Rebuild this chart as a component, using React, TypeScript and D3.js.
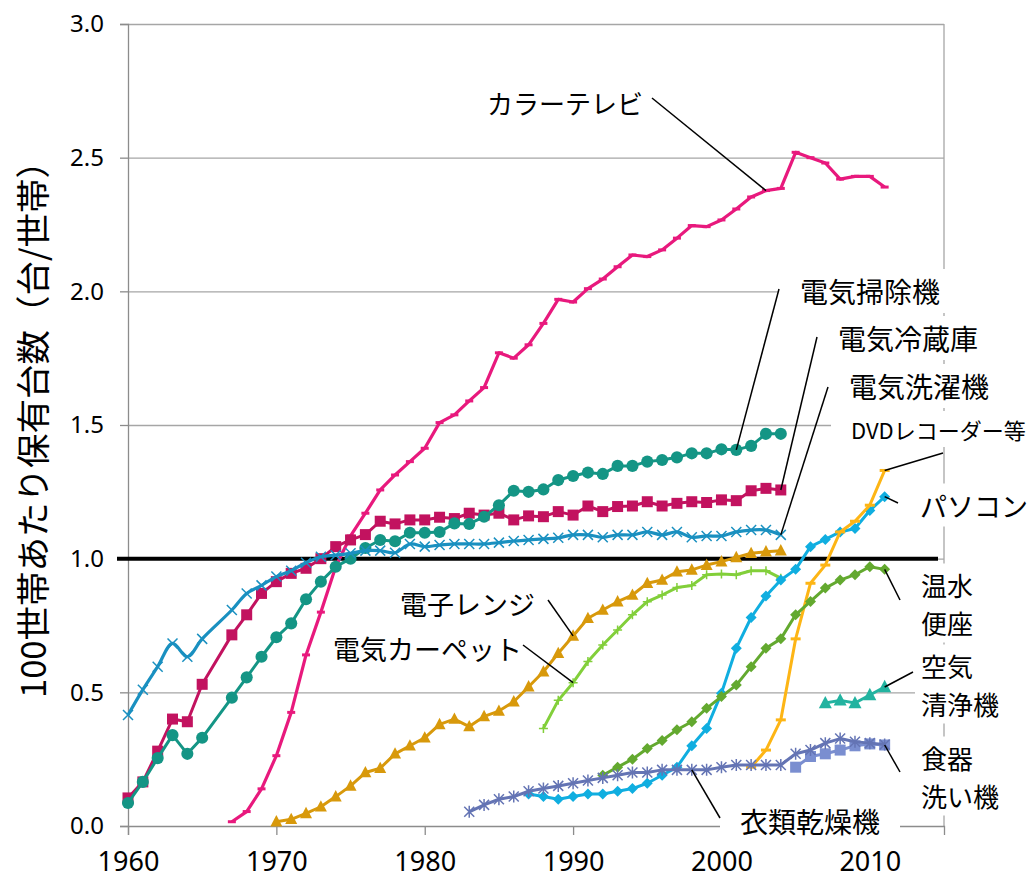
// import d3 for visualization
import * as d3 from "d3";

// import required hooks from React
import { useRef, useEffect } from "react";

// years of the four oldest series (no survey in 1966)
const earlyYears = [1960, 1961, 1962, 1963, 1964, 1965, ...d3.range(1967, 2005)];

// 電気冷蔵庫
const fridgeValues = [
  0.105, 0.165, 0.28, 0.4, 0.39, 0.53,
  0.715, 0.79, 0.87, 0.914, 0.945, 0.964, 1.0, 1.045, 1.07, 1.09,
  1.14, 1.13, 1.145, 1.145, 1.155, 1.15, 1.17, 1.163, 1.17, 1.145,
  1.16, 1.157, 1.176, 1.163, 1.197, 1.176, 1.195, 1.197, 1.213, 1.197,
  1.207, 1.213, 1.21, 1.22, 1.217, 1.254, 1.263, 1.257,
];

// 電気掃除機
const vacuumValues = [
  0.086, 0.165, 0.254, 0.34, 0.27, 0.33,
  0.48, 0.556, 0.633, 0.706, 0.758, 0.848, 0.914, 0.97, 1.0, 1.04,
  1.07, 1.065, 1.097, 1.097, 1.1, 1.132, 1.13, 1.157, 1.2, 1.254,
  1.25, 1.259, 1.294, 1.309, 1.322, 1.317, 1.347, 1.347, 1.363, 1.369,
  1.379, 1.394, 1.394, 1.409, 1.407, 1.422, 1.467, 1.467,
];

// 電気洗濯機
const washerValues = [
  0.415, 0.51, 0.596, 0.683, 0.633, 0.7,
  0.808, 0.87, 0.9, 0.933, 0.955, 0.985, 1.007, 1.013, 1.02, 1.03,
  1.03, 1.022, 1.055, 1.045, 1.051, 1.055, 1.055, 1.055, 1.06, 1.066,
  1.07, 1.074, 1.078, 1.089, 1.089, 1.08, 1.089, 1.089, 1.1, 1.089,
  1.1, 1.08, 1.085, 1.085, 1.1, 1.107, 1.107, 1.089,
];

// カラーテレビ 1967-2011
const tvYears = d3.range(1967, 2012);
const tvValues = [
  0.016, 0.054, 0.139, 0.263, 0.425, 0.64, 0.8, 0.97, 1.085, 1.17,
  1.257, 1.313, 1.363, 1.413, 1.509, 1.538, 1.59, 1.64, 1.77, 1.75,
  1.8, 1.88, 1.97, 1.96, 2.01, 2.046, 2.092, 2.136, 2.13, 2.155,
  2.199, 2.246, 2.242, 2.267, 2.308, 2.353, 2.377, 2.385, 2.52, 2.5,
  2.48, 2.42, 2.43, 2.43, 2.39,
];

// 電子レンジ 1970-2004
const microwaveYears = d3.range(1970, 2005);
const microwaveValues = [
  0.016, 0.025, 0.047, 0.072, 0.11, 0.15, 0.2, 0.216, 0.27, 0.3,
  0.33, 0.38, 0.4, 0.372, 0.41, 0.43, 0.465, 0.521, 0.577, 0.646,
  0.711, 0.777, 0.808, 0.839, 0.864, 0.908, 0.92, 0.951, 0.958, 0.976,
  0.989, 1.005, 1.02, 1.026, 1.03,
];

// 電気カーペット 1988-2004
const carpetYears = d3.range(1988, 2005);
const carpetValues = [
  0.365, 0.47, 0.536, 0.615, 0.677, 0.733, 0.79, 0.839, 0.864, 0.892,
  0.9, 0.94, 0.943, 0.94, 0.955, 0.955, 0.927,
];

// パソコン 1987-2011
const pcYears = d3.range(1987, 2012);
const pcValues = [
  0.12, 0.11, 0.1, 0.11, 0.12, 0.12, 0.13, 0.14, 0.16, 0.19,
  0.22, 0.3, 0.365, 0.497, 0.665, 0.78, 0.86, 0.92, 0.96, 1.045,
  1.072, 1.1, 1.113, 1.18, 1.232,
];

// DVDレコーダー等 2002-2011
const dvdYears = d3.range(2002, 2012);
const dvdValues = [0.22, 0.284, 0.397, 0.7, 0.908, 0.976, 1.1, 1.14, 1.2, 1.33];

// 温水便座 1992-2011
const toiletYears = d3.range(1992, 2012);
const toiletValues = [
  0.19, 0.22, 0.25, 0.29, 0.32, 0.36, 0.39, 0.44, 0.484, 0.527,
  0.596, 0.665, 0.7, 0.79, 0.84, 0.89, 0.92, 0.94, 0.97, 0.96,
];

// 空気清浄機 2007-2011
const airYears = d3.range(2007, 2012);
const airValues = [0.46, 0.47, 0.46, 0.49, 0.52];

// 食器洗い機 2005-2011
const dishYears = d3.range(2005, 2012);
const dishValues = [0.22, 0.26, 0.27, 0.284, 0.3, 0.307, 0.303];

// 衣類乾燥機 1983-2011
const dryerYears = d3.range(1983, 2012);
const dryerValues = [
  0.053, 0.079, 0.1, 0.11, 0.13, 0.14, 0.15, 0.16, 0.17, 0.18,
  0.19, 0.2, 0.2, 0.21, 0.21, 0.21, 0.21, 0.22, 0.228, 0.228,
  0.228, 0.228, 0.27, 0.284, 0.31, 0.327, 0.315, 0.31, 0.305,
];

// axis ticks
const xTicks = [1960, 1970, 1980, 1990, 2000, 2010];
const yTicks = [0, 0.5, 1, 1.5, 2, 2.5, 3];
const yTitle = "100世帯あたり保有台数（台/世帯）";

// draw a marker path centered on 0,0
function markerPath(kind: string, s: number) {
  const h = s / 2;
  switch (kind) {
    case "square":
      return `M${-h},${-h}h${s}v${s}h${-s}Z`;
    case "diamond":
      return `M0,${-h}L${h},0L0,${h}L${-h},0Z`;
    case "triangle":
      return `M0,${-s * 0.55}L${h},${s * 0.4}L${-h},${s * 0.4}Z`;
    case "plus":
      return `M${-h},0H${h}M0,${-h}V${h}`;
    case "times":
      return `M${-h},${-h}L${h},${h}M${-h},${h}L${h},${-h}`;
    case "star":
      return `M${-h},${-h}L${h},${h}M${-h},${h}L${h},${-h}M0,${-h * 1.2}V${h * 1.2}`;
    case "dash":
      return `M${-h},-1.5h${s}v3h${-s}Z`;
    default:
      return d3.symbol(d3.symbolCircle, s * s * 0.8)();
  }
}

export default function App() {
  // define ref for svg
  const svgRef = useRef<SVGSVGElement>(null);

  useEffect(() => {
    const svg = d3.select(svgRef.current);
    svg.selectAll("*").remove();

    // scales
    const x = d3.scaleLinear().domain([1960, 2015]).range([128, 944]);
    const y = d3.scaleLinear().domain([0, 3]).range([826, 24]);

    const numFont = "'Noto Sans', 'DejaVu Sans', sans-serif";
    const jpFont = "'Noto Sans CJK JP', sans-serif";

    // series table
    const series = [
      { key: "tv", years: tvYears, values: tvValues, color: "#E8197D", marker: "dash", size: 8, width: 3.2, smooth: false },
      { key: "fridge", years: earlyYears, values: fridgeValues, color: "#C2125F", marker: "square", size: 11, width: 3, smooth: false },
      { key: "vacuum", years: earlyYears, values: vacuumValues, color: "#149585", marker: "circle", size: 12, width: 3, smooth: false },
      { key: "washer", years: earlyYears, values: washerValues, color: "#1A90C0", marker: "times", size: 10, width: 3.2, smooth: true },
      { key: "microwave", years: microwaveYears, values: microwaveValues, color: "#D8990B", marker: "triangle", size: 12, width: 3, smooth: false },
      { key: "carpet", years: carpetYears, values: carpetValues, color: "#82CF3A", marker: "plus", size: 9, width: 3, smooth: false },
      { key: "pc", years: pcYears, values: pcValues, color: "#10AEE0", marker: "diamond", size: 11, width: 3, smooth: false },
      { key: "dvd", years: dvdYears, values: dvdValues, color: "#FDB515", marker: "dash", size: 10, width: 3, smooth: false },
      { key: "toilet", years: toiletYears, values: toiletValues, color: "#63A92F", marker: "diamond", size: 11, width: 3, smooth: false },
      { key: "air", years: airYears, values: airValues, color: "#22B3A0", marker: "triangle", size: 13, width: 3, smooth: false },
      { key: "dish", years: dishYears, values: dishValues, color: "#7A8ED0", marker: "square", size: 11, width: 3, smooth: false },
      { key: "dryer", years: dryerYears, values: dryerValues, color: "#6474B4", marker: "star", size: 10, width: 3, smooth: false },
    ];

    // horizontal gridlines
    svg.append("g")
      .attr("transform", `translate(${x(1960)},0)`)
      .call(d3.axisLeft(y).tickValues(yTicks.slice(1)).tickSize(-(x(2015) - x(1960))).tickFormat(() => ""))
      .call(g => g.select(".domain").remove())
      .call(g => g.selectAll("line").attr("stroke", "#A6A6A6").attr("stroke-width", 1.3));

    // right border of the plot
    svg.append("line")
      .attr("x1", x(2015)).attr("x2", x(2015)).attr("y1", y(3)).attr("y2", y(0))
      .attr("stroke", "#A6A6A6").attr("stroke-width", 1.3);

    // y axis
    svg.append("g")
      .attr("transform", `translate(${x(1960)},0)`)
      .call(d3.axisLeft(y).tickValues(yTicks).tickSize(8).tickPadding(16).tickFormat(d3.format(".1f")))
      .call(g => g.selectAll("line, path").attr("stroke", "#8C8C8C").attr("stroke-width", 1.3))
      .call(g => g.selectAll("text").attr("font-family", numFont).attr("font-size", 24).attr("fill", "#000"));

    // x axis
    svg.append("g")
      .attr("transform", `translate(0,${y(0)})`)
      .call(d3.axisBottom(x).tickValues(xTicks).tickSize(9).tickPadding(17).tickFormat(d3.format("d")))
      .call(g => g.selectAll("line, path").attr("stroke", "#8C8C8C").attr("stroke-width", 1.3))
      .call(g => g.selectAll("text").attr("font-family", numFont).attr("font-size", 27).attr("fill", "#000"));

    // y axis title
    svg.append("text")
      .attr("transform", `translate(31,${421}) rotate(-90)`)
      .attr("text-anchor", "middle")
      .attr("dominant-baseline", "central")
      .attr("font-family", jpFont)
      .attr("font-size", 34.5)
      .text(yTitle);

    // 1.0 reference line
    svg.append("line")
      .attr("x1", 117).attr("x2", 938).attr("y1", y(1)).attr("y2", y(1))
      .attr("stroke", "#000").attr("stroke-width", 4);

    // series lines and markers
    series.forEach(s => {
      const pts = s.years.map((yr, i) => [yr, s.values[i]] as [number, number]);
      const line = d3.line<[number, number]>()
        .x(d => x(d[0]))
        .y(d => y(d[1]))
        .curve(s.smooth ? d3.curveCatmullRom.alpha(0.5) : d3.curveLinear);
      const g = svg.append("g");
      g.append("path")
        .attr("d", line(pts))
        .attr("fill", "none")
        .attr("stroke", s.color)
        .attr("stroke-width", s.width)
        .attr("stroke-linejoin", "round");
      const stroked = ["plus", "times", "star"].includes(s.marker);
      g.selectAll("path.m").data(pts).enter().append("path")
        .attr("class", "m")
        .attr("transform", d => `translate(${x(d[0])},${y(d[1])})`)
        .attr("d", markerPath(s.marker, s.size))
        .attr("fill", stroked ? "none" : s.color)
        .attr("stroke", stroked ? s.color : "none")
        .attr("stroke-width", 1.5);
    });

    // value lookup for leader lines
    const point = (key: string, yr: number) => {
      const s = series.find(d => d.key === key)!;
      const i = s.years.indexOf(yr);
      return [x(yr), y(s.values[i])];
    };

    // annotation labels
    const labels = [
      { lines: ["カラーテレビ"], x: 487, y: 102, size: 26, padX: 6, target: ["tv", 2003], anchor: [652, 98] },
      { lines: ["電気掃除機"], x: 800, y: 291, size: 28, padX: 22, target: ["vacuum", 2001], anchor: [779, 289] },
      { lines: ["電気冷蔵庫"], x: 838, y: 338, size: 28, padX: 10, target: ["fridge", 2004], anchor: [817, 337] },
      { lines: ["電気洗濯機"], x: 849, y: 386, size: 28, padX: 10, target: ["washer", 2004], anchor: [828, 387] },
      { lines: ["DVDレコーダー等"], x: 851, y: 429, size: 22, padX: 20, target: ["dvd", 2011], anchor: [943, 453] },
      { lines: ["パソコン"], x: 920, y: 505, size: 27, padX: 6, target: ["pc", 2011], anchor: [898, 503] },
      { lines: ["温水", "便座"], x: 921, y: 584, size: 26, padX: 6, target: ["toilet", 2011], anchor: [900, 600] },
      { lines: ["空気", "清浄機"], x: 921, y: 665, size: 26, padX: 6, target: ["air", 2011], anchor: [913, 672] },
      { lines: ["食器", "洗い機"], x: 921, y: 757, size: 26, padX: 6, target: ["dish", 2011], anchor: [900, 772] },
      { lines: ["衣類乾燥機"], x: 740, y: 821, size: 28, padX: 20, target: ["dryer", 1998], anchor: [720, 818] },
      { lines: ["電子レンジ"], x: 400, y: 603, size: 27, padX: 6, target: ["microwave", 1990], anchor: [548, 600] },
      { lines: ["電気カーペット"], x: 333, y: 648, size: 27, padX: 6, target: ["carpet", 1990], anchor: [523, 645] },
    ];

    const labelLayer = svg.append("g");
    labels.forEach(l => {
      const g = labelLayer.append("g");
      const rect = g.append("rect").attr("fill", "#fff");
      const text = g.append("text")
        .attr("font-family", jpFont)
        .attr("font-size", l.size)
        .attr("fill", "#000");
      l.lines.forEach((t, i) => {
        text.append("tspan")
          .attr("x", l.x)
          .attr("y", l.y + i * 38)
          .attr("dominant-baseline", "central")
          .text(t);
      });
      const bb = (text.node() as SVGTextElement).getBBox();
      rect.attr("x", bb.x - l.padX).attr("y", bb.y - 2).attr("width", bb.width + 2 * l.padX).attr("height", bb.height + 4);
    });

    // leader lines
    labels.forEach(l => {
      const [px, py] = point(l.target[0] as string, l.target[1] as number);
      svg.append("line")
        .attr("x1", l.anchor[0]).attr("y1", l.anchor[1])
        .attr("x2", px).attr("y2", py)
        .attr("stroke", "#000").attr("stroke-width", 1.5);
    });
  }, []);

  // return the svg element
  return (
    <svg
      ref={svgRef}
      width={1035}
      height={889}
      style={{ position: "absolute", left: 0, top: 0, background: "#fff" }}
    />
  );
}
